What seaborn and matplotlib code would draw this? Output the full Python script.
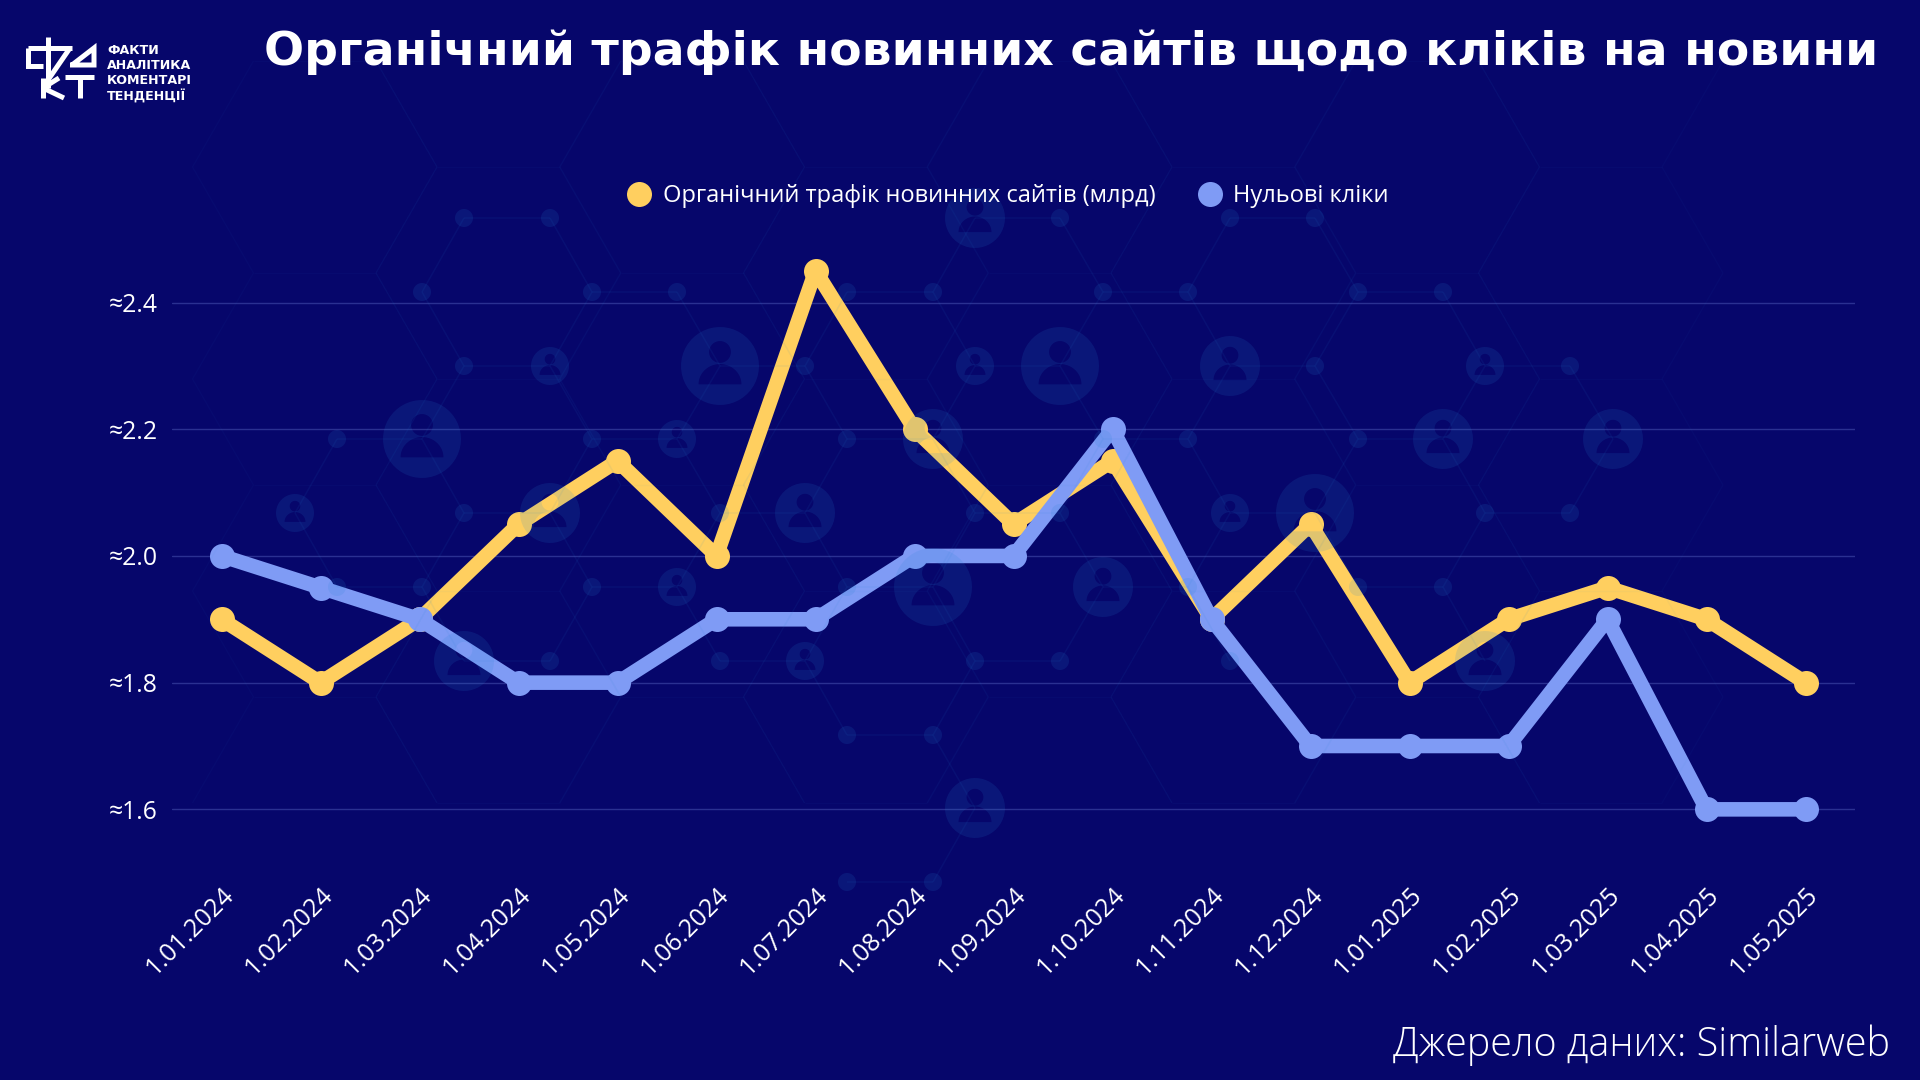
import numpy as np
import pandas as pd
import seaborn as sns
import matplotlib
matplotlib.use("Agg")
import matplotlib.pyplot as plt
from matplotlib.collections import LineCollection
from matplotlib.lines import Line2D
from matplotlib.patches import PathPatch
from matplotlib.path import Path

# Monthly series
dates = ["1.01.2024", "1.02.2024", "1.03.2024", "1.04.2024", "1.05.2024", "1.06.2024",
         "1.07.2024", "1.08.2024", "1.09.2024", "1.10.2024", "1.11.2024", "1.12.2024",
         "1.01.2025", "1.02.2025", "1.03.2025", "1.04.2025", "1.05.2025"]
organic_traffic = [1.9, 1.8, 1.9, 2.05, 2.15, 2.0, 2.45, 2.2, 2.05, 2.15, 1.9, 2.05,
                   1.8, 1.9, 1.95, 1.9, 1.8]
zero_clicks = [2.0, 1.95, 1.9, 1.8, 1.8, 1.9, 1.9, 2.0, 2.0, 2.2, 1.9, 1.7,
               1.7, 1.7, 1.9, 1.6, 1.6]
y_ticks = [1.6, 1.8, 2.0, 2.2, 2.4]
series_names = ["Органічний трафік новинних сайтів (млрд)", "Нульові кліки"]
title_text = "Органічний трафік новинних сайтів щодо кліків на новини"
source_text = "Джерело даних: Similarweb"
logo_lines = ["ФАКТИ", "АНАЛІТИКА", "КОМЕНТАРІ", "ТЕНДЕНЦІЇ"]

BG = "#06066B"
YELLOW = "#FFCF5F"
BLUE = "#7F9BF5"
GRID = "#2A3091"
FONT = ["Open Sans", "DejaVu Sans"]

W, H = 1920, 1080

sns.set_theme(style="white")
plt.rcParams["font.family"] = FONT

fig = plt.figure(figsize=(W / 100, H / 100), dpi=100, facecolor=BG)

# Plot area in pixel terms: band scale from x=172 to x=1855
top_px, bottom_px = 207.5, 872.7
ax = fig.add_axes([172 / W, 1 - bottom_px / H, 1683 / W, (bottom_px - top_px) / H])
ax.set_facecolor("none")

frame = pd.DataFrame({
    "date": pd.Categorical(dates * 2, categories=dates, ordered=True),
    "value": organic_traffic + zero_clicks,
    "series": [series_names[0]] * len(dates) + [series_names[1]] * len(dates),
})
sns.lineplot(
    data=frame, x="date", y="value", hue="series", hue_order=series_names,
    palette=[YELLOW, BLUE], sort=False, errorbar=None, ax=ax, legend=False,
    linewidth=10.5, marker="o", markersize=18, markeredgewidth=0,
    solid_joinstyle="round", zorder=3, clip_on=False,
)

ax.set_xlim(-0.5, 16.5)
ax.set_ylim(1.5, 2.55)
ax.set_xlabel("")
ax.set_ylabel("")
ax.set_yticks(y_ticks)
ax.set_yticklabels([f"≈{v:.1f}" for v in y_ticks], color="white", fontsize=17.8)
ax.set_xticks(range(len(dates)))
ax.set_xticklabels(dates, rotation=45, ha="right", va="top", rotation_mode="anchor",
                   color="white", fontsize=18)
ax.tick_params(axis="both", length=0)
ax.tick_params(axis="x", pad=7)
ax.tick_params(axis="y", pad=10)
ax.grid(axis="y", color=GRID, linewidth=1)
ax.set_axisbelow(True)
sns.despine(ax=ax, left=True, bottom=True)

handles = [Line2D([], [], linestyle="none", marker="o", markersize=18,
                  markeredgewidth=0, color=c) for c in (YELLOW, BLUE)]
legend = fig.legend(handles, series_names, loc="center", bbox_to_anchor=(1008 / W, 1 - 196 / H),
                    ncol=2, frameon=False, fontsize=17, labelcolor="white",
                    handletextpad=0.5, columnspacing=1.8, handlelength=1)

# Decorative network layer, laid over the plot in pixel coordinates
deco = fig.add_axes([0, 0, 1, 1], zorder=ax.get_zorder() + 1)
deco.set_xlim(0, W)
deco.set_ylim(H, 0)
deco.axis("off")
deco.patch.set_alpha(0)

NODE_RADIUS = {"d": 9, "s": 19, "m": 30, "L": 39}
NODE_ROWS = {
    218: {464: "d", 550: "d", 975: "m", 1060: "d", 1230: "d", 1315: "d"},
    292: {422: "d", 592: "d", 677: "d", 847: "d", 933: "d", 1103: "d", 1188: "d", 1358: "d", 1443: "d"},
    366: {464: "d", 550: "s", 720: "L", 805: "d", 975: "s", 1060: "L", 1230: "m", 1315: "d", 1485: "s", 1570: "d"},
    439: {337: "d", 422: "L", 592: "d", 677: "s", 847: "d", 933: "m", 1103: "d", 1188: "d", 1358: "d", 1443: "m", 1613: "m"},
    513: {295: "s", 464: "d", 550: "m", 720: "d", 805: "m", 975: "d", 1060: "d", 1230: "s", 1315: "L", 1485: "d", 1570: "d"},
    587: {337: "d", 422: "d", 592: "d", 677: "s", 847: "d", 933: "L", 1103: "m", 1188: "d", 1358: "d", 1443: "d"},
    661: {464: "m", 550: "d", 720: "d", 805: "s", 975: "d", 1060: "d", 1230: "d", 1485: "m"},
    735: {847: "d", 933: "d"},
    808: {975: "m"},
    882: {847: "d", 933: "d"},
}
OVERLAY = "#2483D4"


def ring(cx, cy, rx, ry, start, stop, n=48):
    t = np.linspace(start, stop, n)
    return np.column_stack([cx + rx * np.cos(t), cy + ry * np.sin(t)])


def polygon(points):
    codes = [Path.MOVETO] + [Path.LINETO] * (len(points) - 1) + [Path.CLOSEPOLY]
    return Path(np.vstack([points, points[0]]), codes)


def person_icon(cx, cy, r):
    disc = polygon(ring(cx, cy, r, r, 0, 2 * np.pi)[:-1])
    head = polygon(ring(cx, cy - 0.36 * r, 0.28 * r, 0.28 * r, 2 * np.pi, 0)[:-1])
    body = polygon(ring(cx, cy + 0.47 * r, 0.55 * r, 0.52 * r, 0, -np.pi))
    return Path.make_compound_path(disc, head, body)


fine_edges = []
rows = sorted(NODE_ROWS)
for y in rows:
    xs = sorted(NODE_ROWS[y])
    for a, b in zip(xs, xs[1:]):
        if abs((b - a) - 85) < 4:
            fine_edges.append([(a, y), (b, y)])
for y0, y1 in zip(rows, rows[1:]):
    for a in NODE_ROWS[y0]:
        for b in NODE_ROWS[y1]:
            if abs(abs(a - b) - 42.5) < 5:
                fine_edges.append([(a, y0), (b, y1)])
deco.add_collection(LineCollection(fine_edges, colors=OVERLAY, linewidths=1.1, alpha=0.08))

# Wider, fainter honeycomb behind the nodes
coarse_edges = []
step_x, step_y = 367.5, 106
for k in range(9):
    y = 61 + k * step_y
    offset = 253.5 if k % 2 == 0 else 437
    for n in range(-1, 5):
        a = offset + n * step_x
        b = a + 122.5
        if 190 < a and b < 1790 and y < 900:
            coarse_edges.append([(a, y), (b, y)])
            y2 = y + step_y
            if y2 < 900:
                coarse_edges.append([(a, y), (a - 61, y2)])
                coarse_edges.append([(b, y), (b + 61, y2)])
            if y > 100:
                coarse_edges.append([(a, y), (a - 61, y - step_y)])
                coarse_edges.append([(b, y), (b + 61, y - step_y)])
deco.add_collection(LineCollection(coarse_edges, colors=OVERLAY, linewidths=1.0, alpha=0.04))

for y, row in NODE_ROWS.items():
    for x, kind in row.items():
        r = NODE_RADIUS[kind]
        path = polygon(ring(x, y, r, r, 0, 2 * np.pi)[:-1]) if kind == "d" else person_icon(x, y, r)
        deco.add_patch(PathPatch(path, facecolor=OVERLAY, edgecolor="none", alpha=0.14))

# Title and source line
fig.text(1878 / W, 1 - 52 / H, title_text, ha="right", va="center", color="white",
         fontsize=34, fontweight="bold", family=["DejaVu Sans"])
fig.text(1890 / W, 1 - 1045 / H, source_text, ha="right", va="center", color="white",
         fontsize=28.5, fontweight="light")

# Logo mark
logo_paths = [
    [(28, 48), (28, 66), (43, 66)],
    [(28, 48), (72, 48)],
    [(48, 37), (48, 88)],
    [(70, 48), (48, 80)],
    [(70, 65), (94, 65), (94, 48), (72, 65)],
    [(43, 78), (43, 98)],
    [(43, 88), (59, 78)],
    [(43, 88), (64, 98)],
    [(65, 77), (94, 77)],
    [(80, 77), (80, 98)],
]
for stroke in logo_paths:
    xs, ys = zip(*stroke)
    deco.plot(xs, ys, color="white", linewidth=3.6, solid_capstyle="butt", solid_joinstyle="miter")

for i, line in enumerate(logo_lines):
    fig.text(107 / W, 1 - (50 + i * 15.4) / H, line, ha="left", va="center", color="white",
             fontsize=9.1, fontweight="bold", family=["DejaVu Sans"])

fig.savefig("out.png", dpi=100, facecolor=BG)
